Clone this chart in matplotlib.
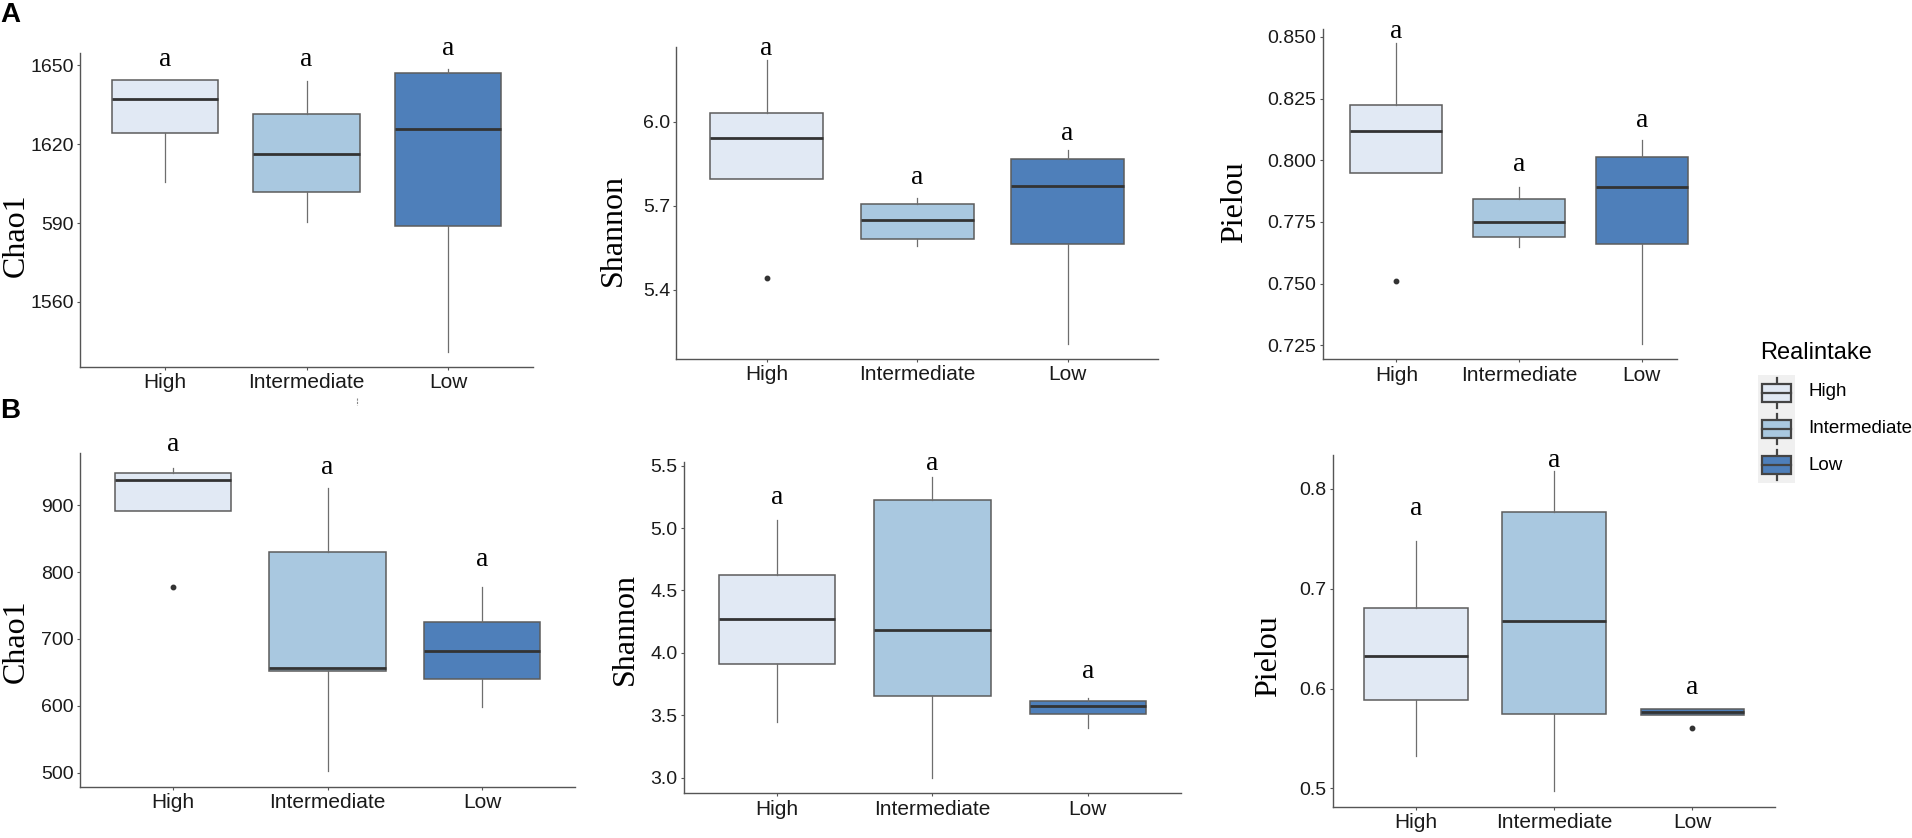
import matplotlib
matplotlib.use('Agg')
import matplotlib.pyplot as plt
from matplotlib.patches import Rectangle
from matplotlib.lines import Line2D

W, H = 1912, 838
fig = plt.figure(figsize=(W / 100, H / 100), dpi=100)

groups = ['High', 'Intermediate', 'Low']
colors = ['#E1E9F4', '#A9C8E0', '#4E7FBA']

# box stats: whislo, q1, med, q3, whishi (High, Intermediate, Low)
a_chao_lo = [1605.7, 1590.3, 1540.9]
a_chao_q1 = [1624.1, 1601.8, 1589.0]
a_chao_med = [1637.1, 1616.3, 1625.8]
a_chao_q3 = [1644.3, 1631.3, 1647.0]
a_chao_hi = [1644.3, 1643.8, 1648.7]
a_chao_out = [[], [], []]
a_chao_let = [1652, 1652, 1656.3]

a_sha_lo = [5.797, 5.555, 5.207]
a_sha_q1 = [5.797, 5.582, 5.563]
a_sha_med = [5.943, 5.650, 5.771]
a_sha_q3 = [6.030, 5.706, 5.868]
a_sha_hi = [6.220, 5.729, 5.900]
a_sha_out = [[5.442], [], []]
a_sha_let = [6.262, 5.800, 5.959]

a_pie_lo = [0.7947, 0.7650, 0.7254]
a_pie_q1 = [0.7947, 0.7689, 0.7660]
a_pie_med = [0.8118, 0.7750, 0.7893]
a_pie_q3 = [0.8224, 0.7842, 0.8013]
a_pie_hi = [0.8474, 0.7891, 0.8082]
a_pie_out = [[0.7511], [], []]
a_pie_let = [0.8524, 0.7984, 0.8163]

b_chao_lo = [891, 502, 598]
b_chao_q1 = [891, 652, 640]
b_chao_med = [937, 657, 682]
b_chao_q3 = [948, 830, 726]
b_chao_hi = [955, 925, 777]
b_chao_out = [[777], [], []]
b_chao_let = [991, 956, 819]

b_sha_lo = [3.449, 2.995, 3.400]
b_sha_q1 = [3.909, 3.655, 3.510]
b_sha_med = [4.272, 4.183, 3.577]
b_sha_q3 = [4.624, 5.223, 3.612]
b_sha_hi = [5.065, 5.412, 3.636]
b_sha_out = [[], [], []]
b_sha_let = [5.244, 5.519, 3.850]

b_pie_lo = [0.5327, 0.4976, 0.5738]
b_pie_q1 = [0.5885, 0.5747, 0.5738]
b_pie_med = [0.6329, 0.6673, 0.5768]
b_pie_q3 = [0.6810, 0.7766, 0.5792]
b_pie_hi = [0.7478, 0.8180, 0.5792]
b_pie_out = [[], [], [0.5607]]
b_pie_let = [0.7806, 0.8280, 0.6010]

SANS = 'Liberation Sans'
SERIF = 'Liberation Serif'


def px_axes(x0, x1, y0, y1):
    return fig.add_axes([x0 / W, 1 - y1 / H, (x1 - x0) / W, (y1 - y0) / H])


def panel(rect, xend, ylim, lo, q1, med, q3, hi, out, let, ticks, ticklabels,
          ylabel, lab_xy):
    ax = px_axes(*rect)
    stats = []
    for i in range(3):
        stats.append(dict(whislo=lo[i], q1=q1[i], med=med[i], q3=q3[i],
                          whishi=hi[i], fliers=out[i]))
    bp = ax.bxp(stats, positions=[1, 2, 3], widths=0.75, patch_artist=True,
                showcaps=False,
                boxprops=dict(edgecolor='#5c5c5c', linewidth=1.1),
                medianprops=dict(color='#333333', linewidth=2.0),
                whiskerprops=dict(color='#6e6e6e', linewidth=0.9),
                flierprops=dict(marker='o', markersize=3.2,
                                markerfacecolor='#333333',
                                markeredgecolor='#333333'))
    for b, c in zip(bp['boxes'], colors):
        b.set_facecolor(c)
    for i in range(3):
        ax.text(i + 1, let[i], 'a', ha='center', va='center', fontsize=20,
                family=SERIF, clip_on=False)
    ax.set_xlim(0.4, 3.6)
    ax.set_ylim(*ylim)
    ax.set_xticks([1, 2, 3])
    ax.set_xticklabels(groups, fontsize=15, family=SANS)
    ax.set_yticks(ticks)
    ax.set_yticklabels(ticklabels, fontsize=14, family=SANS)
    for s in ['top', 'right']:
        ax.spines[s].set_visible(False)
    for s in ['left', 'bottom']:
        ax.spines[s].set_color('#555555')
        ax.spines[s].set_linewidth(1.0)
    ax.spines['bottom'].set_bounds(0.4, xend)
    ax.tick_params(length=2.5, width=0.8, color='#555555', pad=2,
                   labelcolor='#1a1a1a')
    ax.patch.set_alpha(0)
    fig.text(lab_xy[0] / W, 1 - lab_xy[1] / H, ylabel, rotation=90,
             ha='center', va='center', fontsize=23, family=SERIF)
    return ax


panel((80, 533, 53, 366.7), 3.6, (1535.4, 1654.6),
      a_chao_lo, a_chao_q1, a_chao_med, a_chao_q3, a_chao_hi, a_chao_out,
      a_chao_let, [1560, 1590, 1620, 1650], ['1560', '590', '1620', '1650'],
      'Chao1', (16, 235))
panel((676.3, 1158, 46.7, 359), 3.6, (5.154, 6.267),
      a_sha_lo, a_sha_q1, a_sha_med, a_sha_q3, a_sha_hi, a_sha_out,
      a_sha_let, [5.4, 5.7, 6.0], ['5.4', '5.7', '6.0'],
      'Shannon', (613, 230))
panel((1322.7, 1715.6, 29.3, 359.3), 3.285, (0.7193, 0.8531),
      a_pie_lo, a_pie_q1, a_pie_med, a_pie_q3, a_pie_hi, a_pie_out,
      a_pie_let, [0.725, 0.75, 0.775, 0.8, 0.825, 0.85],
      ['0.725', '0.750', '0.775', '0.800', '0.825', '0.850'],
      'Pielou', (1235, 202))
panel((80, 575, 453, 786.7), 3.6, (479, 978),
      b_chao_lo, b_chao_q1, b_chao_med, b_chao_q3, b_chao_hi, b_chao_out,
      b_chao_let, [500, 600, 700, 800, 900], ['500', '600', '700', '800', '900'],
      'Chao1', (16, 641))
panel((683.9, 1181, 461.7, 793.3), 3.6, (2.875, 5.532),
      b_sha_lo, b_sha_q1, b_sha_med, b_sha_q3, b_sha_hi, b_sha_out,
      b_sha_let, [3.0, 3.5, 4.0, 4.5, 5.0, 5.5],
      ['3.0', '3.5', '4.0', '4.5', '5.0', '5.5'],
      'Shannon', (625, 629))
panel((1333, 1775.4, 455, 807), 3.6, (0.4813, 0.834),
      b_pie_lo, b_pie_q1, b_pie_med, b_pie_q3, b_pie_hi, b_pie_out,
      b_pie_let, [0.5, 0.6, 0.7, 0.8], ['0.5', '0.6', '0.7', '0.8'],
      'Pielou', (1269, 656))

# panel letters
fig.text(10 / W, 1 - 15 / H, 'A', ha='center', va='center', fontsize=20,
         fontweight='bold', family=SANS)
fig.text(10 / W, 1 - 411 / H, 'B', ha='center', va='center', fontsize=20,
         fontweight='bold', family=SANS)

# stray mark between rows
fig.add_artist(Line2D([357 / W, 357 / W], [1 - 398 / H, 1 - 405 / H],
                      color='#888888', linewidth=0.8, linestyle=(0, (2, 1))))

# legend
fig.text(1760 / W, 1 - 353 / H, 'Realintake', ha='left', va='center',
         fontsize=17, family=SANS)
lax = px_axes(1758, 1795, 375, 483)
lax.set_facecolor('#F0F0F0')
lax.set_xlim(0, 1)
lax.set_ylim(0, 3)
lax.set_xticks([])
lax.set_yticks([])
for s in lax.spines.values():
    s.set_visible(False)
key_y = [392, 428.5, 465]
for i, (g, c) in enumerate(zip(groups, colors)):
    yc = 2.5 - i
    lax.plot([0.5, 0.5], [yc - 0.42, yc + 0.42], color='#444444', lw=1.6)
    lax.add_patch(Rectangle((0.12, yc - 0.25), 0.76, 0.5, facecolor=c,
                            edgecolor='#444444', lw=1.6, zorder=3))
    lax.plot([0.12, 0.88], [yc, yc], color='#444444', lw=1.6, zorder=4)
    fig.text(1808 / W, 1 - key_y[i] / H, g, ha='left', va='center',
             fontsize=13.5, family=SANS)

fig.savefig('out.png', dpi=100)
